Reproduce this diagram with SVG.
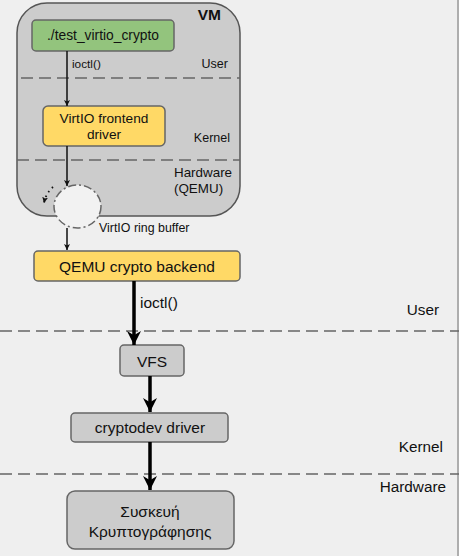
<svg xmlns="http://www.w3.org/2000/svg" width="459" height="556" viewBox="0 0 459 556">
<defs>
<style>
text{font-family:"Liberation Sans",Arial,sans-serif;fill:#111;}
.dash{stroke:#666;stroke-width:1.5;stroke-dasharray:12,6;fill:none;}
.thin{stroke:#111;stroke-width:1.5;fill:none;}
.thick{stroke:#000;stroke-width:3.5;fill:none;}
.box{stroke:#666;stroke-width:1.5;}
</style>
<marker id="ah" viewBox="0 0 10 10" refX="10" refY="5" markerWidth="6" markerHeight="6" markerUnits="userSpaceOnUse" orient="auto"><path d="M0,0 L10,5 L0,10 L2.5,5 z" fill="#111"/></marker>
<marker id="ahb" viewBox="0 0 10 10" refX="10" refY="5" markerWidth="14" markerHeight="14" markerUnits="userSpaceOnUse" orient="auto"><path d="M0,0 L10,5 L0,10 L3,5 z" fill="#000"/></marker>
</defs>
<rect x="0" y="0" width="459" height="556" fill="#efefef"/>
<line x1="458" y1="0" x2="458" y2="556" stroke="#999" stroke-width="1.5"/>
<g id="vm">
<rect x="17" y="3" width="223" height="213" rx="30" fill="#cccccc" stroke="#555" stroke-width="1.5"/>
<text x="221" y="20" font-size="15.5" font-weight="bold" text-anchor="end">VM</text>
<line class="dash" x1="21" y1="78" x2="240" y2="78"/>
<line class="dash" x1="17" y1="160" x2="240" y2="160"/>
<text x="228" y="68" font-size="12.5" text-anchor="end">User</text>
<text x="230" y="142" font-size="12.5" text-anchor="end">Kernel</text>
<text x="174" y="177" font-size="13.4">Hardware</text>
<text x="174" y="193" font-size="13.4">(QEMU)</text>
</g>
<g id="test">
<rect class="box" x="32" y="20" width="142" height="31" rx="4" fill="#93c47d"/>
<text x="103" y="40" font-size="13.8" text-anchor="middle">./test_virtio_crypto</text>
</g>
<g id="frontend">
<rect class="box" x="43" y="106" width="122" height="40" rx="5" fill="#ffd966"/>
<text x="104" y="123" font-size="13.7" text-anchor="middle">VirtIO frontend</text>
<text x="104" y="139" font-size="13.7" text-anchor="middle">driver</text>
</g>
<g id="ringbuffer">
<ellipse cx="77.5" cy="206.5" rx="23.5" ry="21.5" fill="#f2f2f2" stroke="#666" stroke-width="1.5" stroke-dasharray="8,3,2,3"/>
<text x="99" y="232" font-size="12.4">VirtIO ring buffer</text>
</g>
<g id="backend">
<rect class="box" x="34" y="251" width="206" height="30" rx="4" fill="#ffd966"/>
<text x="137" y="271.5" font-size="15.5" text-anchor="middle">QEMU crypto backend</text>
</g>
<g id="layers">
<line class="dash" x1="0" y1="331" x2="459" y2="331"/>
<line class="dash" x1="0" y1="474" x2="459" y2="474"/>
<text x="439" y="315" font-size="15.3" text-anchor="end">User</text>
<text x="443" y="452" font-size="15.3" text-anchor="end">Kernel</text>
<text x="446" y="492" font-size="15.3" text-anchor="end">Hardware</text>
</g>
<g id="vfs">
<rect class="box" x="120" y="345" width="64" height="31" rx="4" fill="#cccccc"/>
<text x="152" y="367" font-size="15.5" text-anchor="middle">VFS</text>
</g>
<g id="cryptodev">
<rect class="box" x="71" y="413" width="157" height="29" rx="4" fill="#cccccc"/>
<text x="150" y="433" font-size="15.5" text-anchor="middle">cryptodev driver</text>
</g>
<g id="device">
<rect class="box" x="67" y="491" width="167" height="58" rx="8" fill="#cccccc"/>
<text x="150" y="517" font-size="15.5" text-anchor="middle">Συσκευή</text>
<text x="150" y="537" font-size="15.5" text-anchor="middle">Κρυπτογράφησης</text>
</g>
<g id="connectors">
<line class="thin" x1="67" y1="51" x2="67" y2="106" marker-end="url(#ah)"/>
<text x="72" y="68" font-size="11.8">ioctl()</text>
<line class="thin" x1="67" y1="146" x2="67" y2="186" marker-end="url(#ah)"/>
<path d="M53,187 Q46,193 44,203" stroke="#111" stroke-width="1.8" stroke-dasharray="1.5,4" fill="none" marker-end="url(#ah)"/>
<line class="thin" x1="67" y1="228" x2="67" y2="250" marker-end="url(#ah)"/>
<line class="thick" x1="134" y1="281" x2="134" y2="345" marker-end="url(#ahb)"/>
<text x="140" y="308" font-size="15.5">ioctl()</text>
<line class="thick" x1="150" y1="376" x2="150" y2="412" marker-end="url(#ahb)"/>
<line class="thick" x1="150" y1="442" x2="150" y2="490" marker-end="url(#ahb)"/>
</g>
</svg>
